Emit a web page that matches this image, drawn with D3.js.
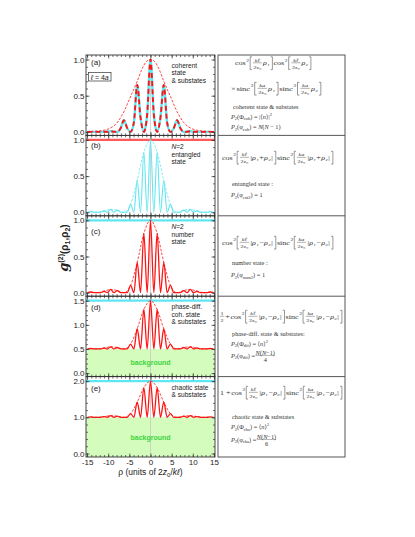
<!DOCTYPE html>
<html>
<head>
<meta charset="utf-8">
<script src="https://cdn.jsdelivr.net/npm/d3@7"></script>
<style>
  body { margin: 0; background: #fff; }
  svg { display: block; }
  text { font-family: "Liberation Sans", Arial, sans-serif; fill: #222; }
  .serif text, text.serif { font-family: "Liberation Serif", "DejaVu Serif", serif; fill: #333; }
</style>
</head>
<body>
<svg id="fig" width="415" height="537"></svg>
<script>
////////////////////////////////////////////////////////////////////////
// Values

// rho positions (units of 2z0/kl) of fringe maxima, minima and half-way points
let rhoQ = [-14.92,-14.14,-13.35,-12.57,-11.78,-10.99,-10.21,-9.42,-8.64,-7.85,-7.07,-6.28,-5.50,-4.71,-3.93,-3.14,-2.36,-1.57,-0.79,
            0,0.79,1.57,2.36,3.14,3.93,4.71,5.50,6.28,7.07,7.85,8.64,9.42,10.21,10.99,11.78,12.57,13.35,14.14,14.92];

// (a) coherent state & substates
let gCoherent = [0,0,0,0,0,0,0.002,0.01,0.002,0,0.05,0.16,0.05,0,0.13,0.65,0.2,0,0.24,
                 1.0,0.24,0,0.2,0.65,0.13,0,0.05,0.16,0.05,0,0.002,0.01,0.002,0,0,0,0,0,0];
let envRhoA = [-15,-12,-10,-8,-6.28,-5,-3.14,-2,-1,0,1,2,3.14,5,6.28,8,10,12,15];
let envA    = [0.005,0.015,0.04,0.12,0.28,0.45,0.7,0.87,0.97,1.0,0.97,0.87,0.7,0.45,0.28,0.12,0.04,0.015,0.005];

// (b) N=2 entangled state
let gEntangled = [0,0.01,0,0,0,0.02,0,0.04,0,0.03,0,0,0,0.11,0,0.44,0,0.83,0,
                  1.0,0,0.83,0,0.44,0,0.11,0,0,0,0.03,0,0.04,0,0.02,0,0,0,0.01,0];
// (c) N=2 number state
let gNumber = [0,0.01,0,0,0,0.02,0,0.045,0,0.03,0,0,0,0.10,0,0.42,0,0.82,0,
               1.0,0,0.82,0,0.42,0,0.10,0,0,0,0.03,0,0.045,0,0.02,0,0,0,0.01,0];
// (d) phase-diff. coherent state & substates
let gPhaseDiff = [0.5,0.51,0.5,0.5,0.5,0.52,0.5,0.545,0.5,0.53,0.5,0.5,0.5,0.6,0.5,0.92,0.5,1.32,0.5,
                  1.5,0.5,1.32,0.5,0.92,0.5,0.6,0.5,0.5,0.5,0.53,0.5,0.545,0.5,0.52,0.5,0.5,0.5,0.51,0.5];
// (e) chaotic state & substates
let gChaotic = [1,1.01,1,1,1,1.02,1,1.045,1,1.03,1,1,1,1.1,1,1.42,1,1.82,1,
                2.0,1,1.82,1,1.42,1,1.1,1,1,1,1.03,1,1.045,1,1.02,1,1,1,1.01,1];

// envelopes through the fringe maxima of (b)-(e)
let rhoPeaks = [-14.14,-12.57,-10.99,-9.42,-7.85,-6.28,-4.71,-3.14,-1.57,0,1.57,3.14,4.71,6.28,7.85,9.42,10.99,12.57,14.14];
let envEntangled = [0.01,0,0.02,0.04,0.03,0,0.11,0.44,0.83,1.0,0.83,0.44,0.11,0,0.03,0.04,0.02,0,0.01];
let envNumber    = [0.01,0,0.02,0.045,0.03,0,0.10,0.42,0.82,1.0,0.82,0.42,0.10,0,0.03,0.045,0.02,0,0.01];
let envPhaseDiff = [0.51,0.5,0.52,0.545,0.53,0.5,0.6,0.92,1.32,1.5,1.32,0.92,0.6,0.5,0.53,0.545,0.52,0.5,0.51];
let envChaotic   = [1.01,1,1.02,1.045,1.03,1,1.1,1.42,1.82,2.0,1.82,1.42,1.1,1,1.03,1.045,1.02,1,1.01];

// constant levels and backgrounds
let levelValue = [null, 1.0, 1.0, 1.5, 2.0];
let backgroundValue = [null, null, null, 0.5, 1.0];

// axes
let xTicks = [-15,-10,-5,0,5,10,15];
let panelMax = [1, 1, 1, 1.5, 2];
let yTickLabels = [[0,0.5,1],[0,0.5,1],[0,0.5,1],[0,0.5,1,1.5],[0,1,2]];
let yMinorStep = [0.1, 0.1, 0.1, 0.1, 0.2];
let panelLetters = ["(a)","(b)","(c)","(d)","(e)"];
let panelNotes = [["coherent","state","& substates"],
                  ["N=2","entangled","state"],
                  ["N=2","number","state"],
                  ["phase-diff.","coh. state","& substates"],
                  ["chaotic state","& substates"]];

////////////////////////////////////////////////////////////////////////

let svg = d3.select("#fig");
let cyan = "#5fe6f2";
let red = "#ff1414";
let redLight = "#ff5a5a";
let green = "#d3fcbd";

let x = d3.scaleLinear().domain([-15.25, 15.25]).range([86, 215]);
let panelTop0 = 55, panelH = 80.4;
let letterY = [10, 13, 18, 13.3, 14.5];
let noteY = [12.5, 13.6, 13.2, 12.8, 12.9];

let panels = [
  { data: d3.zip(rhoQ, gCoherent),  color: cyan, width: 2.4, env: d3.zip(envRhoA, envA),        envColor: red,  overlay: true },
  { data: d3.zip(rhoQ, gEntangled), color: cyan, width: 1.1, env: d3.zip(rhoPeaks, envEntangled), envColor: cyan, levelColor: redLight },
  { data: d3.zip(rhoQ, gNumber),    color: red,  width: 1.3, env: d3.zip(rhoPeaks, envNumber),    envColor: red,  levelColor: cyan },
  { data: d3.zip(rhoQ, gPhaseDiff), color: red,  width: 1.3, env: d3.zip(rhoPeaks, envPhaseDiff), envColor: red,  levelColor: cyan },
  { data: d3.zip(rhoQ, gChaotic),   color: red,  width: 1.3, env: d3.zip(rhoPeaks, envChaotic),   envColor: red,  levelColor: cyan }
];

panels.forEach(function(p, i) {
  let top = panelTop0 + i * panelH;
  let bot = top + panelH;
  let y = d3.scaleLinear().domain([0, panelMax[i]]).range([bot - 3.5, top + 4.5]);
  let g = svg.append("g");

  svg.append("clipPath").attr("id", "clip" + i)
    .append("rect").attr("x", 86).attr("y", top).attr("width", 129).attr("height", panelH);
  let inner = g.append("g").attr("clip-path", `url(#clip${i})`);

  // green background region
  if (backgroundValue[i] !== null) {
    inner.append("rect")
      .attr("x", 86).attr("width", 129)
      .attr("y", y(backgroundValue[i])).attr("height", bot - y(backgroundValue[i]))
      .attr("fill", green);
    g.append("text")
      .attr("x", x(0)).attr("y", (y(backgroundValue[i]) + bot) / 2 + 2.5)
      .attr("text-anchor", "middle")
      .style("font-size", "7px").style("font-weight", "bold").style("fill", "#3ed43e")
      .text("background");
  }

  // zero line
  inner.append("line")
    .attr("x1", x(0)).attr("x2", x(0)).attr("y1", top).attr("y2", bot)
    .attr("stroke", "#c8c8c8").attr("stroke-width", 0.8);

  if (levelValue[i] !== null) {
    inner.append("line")
      .attr("x1", 86).attr("x2", 215)
      .attr("y1", y(levelValue[i])).attr("y2", y(levelValue[i]))
      .attr("stroke", p.levelColor).attr("stroke-width", 2.2);
  }

  let line = d3.line()
    .x(d => x(d[0])).y(d => y(d[1]))
    .curve(d3.curveMonotoneX);

  inner.append("path").attr("d", line(p.data))
    .attr("fill", "none").attr("stroke", p.color).attr("stroke-width", p.width);
  if (p.overlay) {
    inner.append("path").attr("d", line(p.data))
      .attr("fill", "none").attr("stroke", red).attr("stroke-width", 1.9)
      .attr("stroke-dasharray", "5,3");
  }
  inner.append("path").attr("d", line(p.env))
    .attr("fill", "none").attr("stroke", p.envColor).attr("stroke-width", 0.8)
    .attr("stroke-dasharray", "2.5,1.5");

  // axes, ticks pointing inward on all four sides
  let xMinor = d3.range(-15, 16, 1);
  let yMinor = d3.range(0, panelMax[i] + 1e-9, yMinorStep[i]);
  let last = (i === panels.length - 1);

  g.append("g").attr("transform", `translate(0,${bot})`)
    .call(d3.axisBottom(x).tickValues(xMinor).tickSize(-2).tickFormat(""));
  g.append("g").attr("class", "xlab").attr("transform", `translate(0,${bot})`)
    .call(d3.axisBottom(x).tickValues(xTicks).tickSize(-3.5).tickPadding(2.5)
      .tickFormat(d => last ? String(d) : ""));
  g.append("g").attr("transform", `translate(0,${top})`)
    .call(d3.axisTop(x).tickValues(xMinor).tickSize(-2).tickFormat(""));
  g.append("g").attr("transform", `translate(0,${top})`)
    .call(d3.axisTop(x).tickValues(xTicks).tickSize(-3.5).tickFormat(""));

  g.append("g").attr("transform", "translate(86,0)")
    .call(d3.axisLeft(y).tickValues(yMinor).tickSize(-2).tickFormat(""));
  g.append("g").attr("transform", "translate(86,0)")
    .call(d3.axisLeft(y).tickValues(yTickLabels[i]).tickSize(-3.5).tickPadding(1.5)
      .tickFormat(d3.format(".1f")));
  g.append("g").attr("transform", "translate(215,0)")
    .call(d3.axisRight(y).tickValues(yMinor).tickSize(-2).tickFormat(""));
  g.append("g").attr("transform", "translate(215,0)")
    .call(d3.axisRight(y).tickValues(yTickLabels[i]).tickSize(-3.5).tickFormat(""));

  g.selectAll(".domain").remove();
  g.selectAll(".tick line").attr("stroke", "#333").attr("stroke-width", 0.7);
  g.selectAll(".tick text").style("font-size", "8px").style("fill", "#222")
    .style("font-family", "'Liberation Sans', Arial, sans-serif");

  g.append("rect")
    .attr("x", 86).attr("y", top).attr("width", 129).attr("height", panelH)
    .attr("fill", "none").attr("stroke", "#333").attr("stroke-width", 0.9);

  // letter and notes
  g.append("text").attr("x", 91).attr("y", top + letterY[i])
    .style("font-size", "8px").text(panelLetters[i]);

  panelNotes[i].forEach(function(s, j) {
    let t = g.append("text").attr("x", 171.5).attr("y", top + noteY[i] + j * 7.7)
      .style("font-size", "6.6px");
    if (s.startsWith("N=")) {
      t.append("tspan").style("font-style", "italic").text("N");
      t.append("tspan").text(s.slice(1));
    } else {
      t.text(s);
    }
  });
});

// l = 4a box in panel (a)
svg.append("rect").attr("x", 88.5).attr("y", 72.5).attr("width", 22.5).attr("height", 8.5)
  .attr("fill", "none").attr("stroke", "#333").attr("stroke-width", 0.7);
let lab = svg.append("text").attr("x", 99.7).attr("y", 79.5).attr("text-anchor", "middle")
  .style("font-size", "7px");
lab.append("tspan").style("font-style", "italic").text("ℓ");
lab.append("tspan").text(" = 4");
lab.append("tspan").style("font-style", "italic").text("a");

// axis titles
let xt = svg.append("text").attr("x", 150.5).attr("y", 475).attr("text-anchor", "middle")
  .style("font-size", "8.5px");
xt.append("tspan").text("ρ  (units of 2");
xt.append("tspan").style("font-style", "italic").text("z");
xt.append("tspan").attr("dy", 1.5).style("font-size", "6px").text("0");
xt.append("tspan").attr("dy", -1.5).text("/");
xt.append("tspan").style("font-style", "italic").text("kℓ");
xt.append("tspan").text(")");

let yt = svg.append("text").attr("transform", "translate(68,248) rotate(-90)")
  .attr("text-anchor", "middle").style("font-weight", "bold").style("font-size", "10px");
yt.append("tspan").style("font-family", "'DejaVu Serif', serif").style("font-style", "italic")
  .style("font-size", "13px").text("g");
yt.append("tspan").attr("dy", -5).style("font-size", "7px").text("(2)");
yt.append("tspan").attr("dy", 5).text("(ρ");
yt.append("tspan").attr("dy", 2).style("font-size", "7px").text("1");
yt.append("tspan").attr("dy", -2).text(",ρ");
yt.append("tspan").attr("dy", 2).style("font-size", "7px").text("2");
yt.append("tspan").attr("dy", -2).text(")");

////////////////////////////////////////////////////////////////////////
// Right-hand boxes with formulas

let box = svg.append("g").attr("class", "serif");
box.append("rect").attr("x", 218).attr("y", 55).attr("width", 127).attr("height", 402)
  .attr("fill", "none").attr("stroke", "#444").attr("stroke-width", 0.9);
[1, 2, 3, 4].forEach(function(k) {
  let yy = panelTop0 + k * panelH;
  box.append("line").attr("x1", 218).attr("x2", 345).attr("y1", yy).attr("y2", yy)
    .attr("stroke", "#444").attr("stroke-width", 0.9);
});

// lay a formula out left to right, then stretch it to span x0..x1
function mathLine(x0, y0, x1, parts) {
  let g = box.append("g");
  let cx = 0;
  function put(str, xx, yy, fs, it) {
    let t = g.append("text").attr("x", xx).attr("y", yy).style("font-size", fs + "px")
      .style("font-style", it ? "italic" : "normal").text(str);
    return t;
  }
  parts.forEach(function(p) {
    if (p.t !== undefined) {
      cx += put(p.t, cx, 0, 6.6, p.it).node().getComputedTextLength() + 0.5;
    } else if (p.sup !== undefined) {
      cx += put(p.sup, cx, -3.4, 4.5).node().getComputedTextLength() + 0.4;
    } else if (p.fr) {
      let n = put(p.fr[0], cx, -3.3, 5, p.itn);
      let d = put(p.fr[1], cx, 3.8, 5);
      let wn = n.node().getComputedTextLength(), wd = d.node().getComputedTextLength();
      let w = Math.max(wn, wd) + 1;
      n.attr("x", cx + (w - wn) / 2);
      d.attr("x", cx + (w - wd) / 2);
      g.append("line").attr("x1", cx).attr("x2", cx + w).attr("y1", -2.2).attr("y2", -2.2)
        .attr("stroke", "#333").attr("stroke-width", 0.35);
      cx += w + 0.8;
    } else if (p.lb || p.rb) {
      let a = p.lb ? cx + 2 : cx + 0.3, b = p.lb ? cx + 0.5 : cx + 1.8;
      g.append("path").attr("d", `M${a},-8.2H${b}V4.6H${a}`)
        .attr("fill", "none").attr("stroke", "#333").attr("stroke-width", 0.45);
      cx += 2.7;
    }
  });
  g.attr("transform", `translate(${x0},${y0}) scale(${(x1 - x0) / cx},1)`);
}

function term(fn, num, arg) {
  return [{ t: fn }, { sup: "2" }, { lb: 1 }, { fr: [num, "2z₀"], itn: true }, { t: arg, it: true }, { rb: 1 }];
}

mathLine(235, 65, 312, [].concat(term("cos", "kℓ", "ρ₁"), term(" cos", "kℓ", "ρ₂")));
mathLine(231, 90.5, 322, [{ t: "×" }].concat(term("sinc", "ka", "ρ₁"), term(" sinc", "ka", "ρ₂")));
mathLine(222, 159.5, 334, [].concat(term("cos", "kℓ", "|ρ₁+ρ₂|"), term(" sinc", "ka", "|ρ₁+ρ₂|")));
mathLine(222, 244.5, 334, [].concat(term("cos", "kℓ", "|ρ₁−ρ₂|"), term(" sinc", "ka", "|ρ₁−ρ₂|")));
mathLine(220, 318.5, 343, [{ fr: ["1", "2"] }, { t: "+" }].concat(term("cos", "kℓ", "|ρ₁−ρ₂|"), term(" sinc", "ka", "|ρ₁−ρ₂|")));
mathLine(220, 394.5, 343, [{ t: "1 +" }].concat(term("cos", "kℓ", "|ρ₁−ρ₂|"), term(" sinc", "ka", "|ρ₁−ρ₂|")));

// text lines with sub/superscripts; segments are [string, kind]
function rich(xx, yy, segs) {
  let t = box.append("text").attr("x", xx).attr("y", yy).style("font-size", "6.3px");
  let shift = 0;
  segs.forEach(function(s) {
    let kind = s[1] || "";
    let target = kind === "sub" ? 1.8 : kind === "sup" ? -2.6 : 0;
    let ts = t.append("tspan").attr("dy", target - shift).text(s[0]);
    if (kind === "sub" || kind === "sup") ts.style("font-size", "4.5px");
    if (kind === "it") ts.style("font-style", "italic");
    shift = target;
  });
  return t;
}

function pLine(xx, yy, big, name, rhs) {
  return rich(xx, yy, [["P", "it"], ["2", "sub"], ["(" + big], [name, "sub"], [") = "]].concat(rhs));
}

function fracAfter(t, den) {
  let w = t.node().getComputedTextLength();
  let xx = +t.attr("x") + w + 0.5, yy = +t.attr("y");
  let n = box.append("text").attr("x", xx).attr("y", yy - 3).style("font-size", "6.3px");
  n.append("tspan").style("font-style", "italic").text("N");
  n.append("tspan").text("(");
  n.append("tspan").style("font-style", "italic").text("N");
  n.append("tspan").text("−1)");
  let wn = n.node().getComputedTextLength();
  box.append("line").attr("x1", xx).attr("x2", xx + wn).attr("y1", yy - 2).attr("y2", yy - 2)
    .attr("stroke", "#333").attr("stroke-width", 0.35);
  box.append("text").attr("x", xx + wn / 2).attr("y", yy + 4.2).attr("text-anchor", "middle")
    .style("font-size", "6.3px").text(den);
}

let nAvg2 = [["⟨"], ["n", "it"], ["⟩"], ["2", "sup"]];
rich(233, 109, [["coherent state & substates"]]);
pLine(231, 118.5, "Φ", "coh", [["|⟨"], ["n", "it"], ["⟩|"], ["2", "sup"]]);
pLine(231, 129, "φ", "coh", [["N", "it"], ["("], ["N", "it"], [" − 1)"]]);

rich(232, 186, [["entangled state :"]]);
pLine(231, 197, "φ", "ent2", [["1"]]);

rich(232, 265, [["number state :"]]);
pLine(231, 277, "φ", "num2", [["1"]]);

rich(232, 336, [["phase-diff. state & substates:"]]);
pLine(231, 345.5, "Φ", "dif", nAvg2);
fracAfter(pLine(231, 357.5, "φ", "dif", []), "4");

rich(232, 419, [["chaotic state & substates"]]);
pLine(231, 429, "Φ", "cha", nAvg2);
fracAfter(pLine(231, 441.5, "φ", "cha", []), "6");
</script>
</body>
</html>
